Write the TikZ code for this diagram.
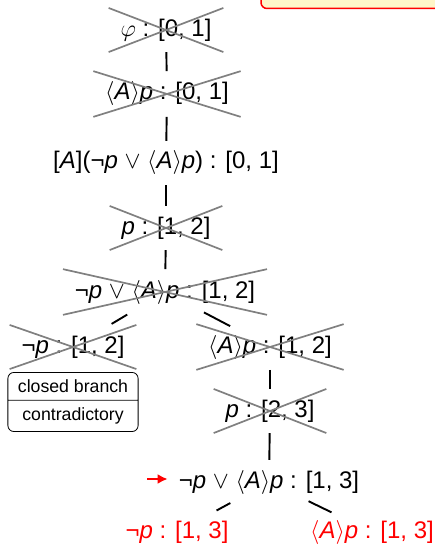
\documentclass[tikz,border=0pt]{standalone}
\usepackage{fix-cm}
\usepackage{fontspec}
\setmainfont{Liberation Sans}
\usetikzlibrary{positioning,shapes.misc,shapes.multipart,arrows.meta}
\definecolor{notebg}{RGB}{255,246,200}

\newcommand{\dia}{$\langle$\textit{A}$\rangle$}
\newcommand{\pp}{\textit{p}}

\begin{document}
\begin{tikzpicture}[x=1pt,y=-1pt,
  every node/.style={font=\fontsize{24}{29}\selectfont,inner xsep=11pt,inner ysep=10pt},
  crossed/.style={cross out,draw=gray,line width=1.7pt},
  edge/.style={line width=1.9pt},
  branch/.style={edge,shorten <=44pt,shorten >=45pt},
  closed/.style={rectangle split,rectangle split parts=2,draw,line width=0.8pt,
    rounded corners=6pt,font=\fontsize{17.7}{21}\selectfont,inner xsep=10pt,inner ysep=7pt}]
  \clip (0,0) rectangle (435,545);
  \useasboundingbox (0,0) rectangle (435,545);

  % 吹き出し (上端)
  \draw[red,line width=1.5pt,fill=notebg,rounded corners=6pt] (261,-20) rectangle (460,8.5);

  % 幹
  \node[crossed] (phi) at (166,30) {$\varphi$ : [0, 1]};
  \node[crossed] (dia1) at (167,94) {\dia\pp{} : [0, 1]};
  \node (box1) at (166,163) {[\textit{A}](¬\pp{} $\vee$ \dia\pp) : [0, 1]};
  \node[crossed] (p12) at (166,228) {\pp{} : [1, 2]};
  \node[crossed] (or12) at (165,292) {¬\pp{} $\vee$ \dia\pp{} : [1, 2]};

  % 左の枝 (閉じる)
  \node[crossed] (negp12) at (73,347) {¬\pp{} : [1, 2]};
  \node[closed,below=3pt of negp12] (closed12) {closed branch\nodepart{two}contradictory};

  % 右の枝
  \node[crossed] (diap12) at (270,347) {\dia\pp{} : [1, 2]};
  \node[crossed] (p23) at (270,411) {\pp{} : [2, 3]};
  \node (or13) at (269,482) {¬\pp{} $\vee$ \dia\pp{} : [1, 3]};
  \node[red] (negp13) at (177,532) {¬\pp{} : [1, 3]};
  \node[red] (diap13) at (372,532) {\dia\pp{} : [1, 3]};

  % 辺
  \draw[edge] (phi) -- (dia1);
  \draw[edge] (dia1) -- (box1);
  \draw[edge] (box1) -- (p12);
  \draw[edge] (p12) -- (or12);
  \draw[branch] (or12.center) -- (negp12.center);
  \draw[branch] (or12.center) -- (diap12.center);
  \draw[edge] (diap12) -- (p23);
  \draw[edge] (p23) -- (or13);
  \draw[branch] (or13.center) -- (negp13.center);
  \draw[branch] (or13.center) -- (diap13.center);

  % 現在の式
  \coordinate (cur) at (147,479);
  \draw[red,line width=2pt,-{Latex[length=10pt,width=10pt]}] (cur) -- (cur -| or13.west);
\end{tikzpicture}
\end{document}
